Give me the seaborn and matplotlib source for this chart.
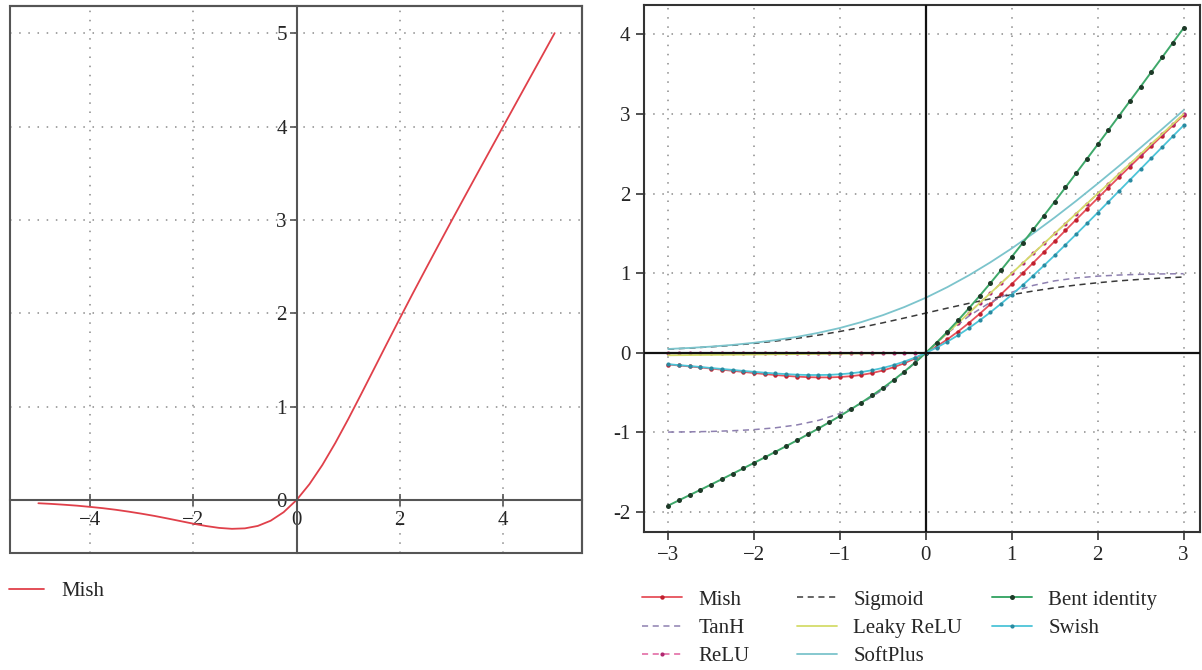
import numpy as np
import pandas as pd
import seaborn as sns
import matplotlib.pyplot as plt
from matplotlib.patches import Rectangle

# --- values ---
# left panel: Mish over -5..5
mish_wide_x = [-5, -4.75, -4.5, -4.25, -4, -3.75, -3.5, -3.25, -3, -2.75, -2.5, -2.25, -2,
               -1.75, -1.5, -1.25, -1, -0.75, -0.5, -0.25, 0, 0.25, 0.5, 0.75, 1, 1.25,
               1.5, 1.75, 2, 2.25, 2.5, 2.75, 3, 3.25, 3.5, 3.75, 4, 4.25, 4.5, 4.75, 5]
mish_wide_y = [-0.034, -0.041, -0.050, -0.060, -0.073, -0.087, -0.104, -0.124, -0.146, -0.170,
               -0.197, -0.225, -0.253, -0.278, -0.298, -0.308, -0.303, -0.277, -0.221, -0.130,
               0, 0.170, 0.375, 0.610, 0.865, 1.132, 1.403, 1.675, 1.944, 2.210, 2.471, 2.730,
               2.987, 3.241, 3.494, 3.746, 3.997, 4.248, 4.499, 4.749, 5.000]

# right panel: fine grid (marked series)
x_fine = [-3, -2.875, -2.75, -2.625, -2.5, -2.375, -2.25, -2.125, -2, -1.875, -1.75, -1.625,
          -1.5, -1.375, -1.25, -1.125, -1, -0.875, -0.75, -0.625, -0.5, -0.375, -0.25, -0.125,
          0, 0.125, 0.25, 0.375, 0.5, 0.625, 0.75, 0.875, 1, 1.125, 1.25, 1.375, 1.5, 1.625,
          1.75, 1.875, 2, 2.125, 2.25, 2.375, 2.5, 2.625, 2.75, 2.875, 3]
mish_y = [-0.146, -0.158, -0.170, -0.183, -0.197, -0.211, -0.225, -0.239, -0.253, -0.266,
          -0.278, -0.289, -0.298, -0.305, -0.308, -0.308, -0.303, -0.293, -0.277, -0.253,
          -0.221, -0.180, -0.130, -0.070, 0, 0.080, 0.170, 0.268, 0.375, 0.490, 0.610, 0.736,
          0.865, 0.998, 1.132, 1.267, 1.403, 1.539, 1.675, 1.810, 1.944, 2.077, 2.210, 2.341,
          2.471, 2.601, 2.730, 2.859, 2.987]
relu_y = [0] * 25 + [0.125, 0.25, 0.375, 0.5, 0.625, 0.75, 0.875, 1, 1.125, 1.25, 1.375, 1.5,
                     1.625, 1.75, 1.875, 2, 2.125, 2.25, 2.375, 2.5, 2.625, 2.75, 2.875, 3]
bent_y = [-1.919, -1.853, -1.787, -1.721, -1.654, -1.587, -1.519, -1.451, -1.382, -1.313,
          -1.242, -1.171, -1.099, -1.025, -0.950, -0.872, -0.793, -0.711, -0.625, -0.535,
          -0.441, -0.341, -0.235, -0.121, 0, 0.129, 0.265, 0.409, 0.559, 0.715, 0.875, 1.039,
          1.207, 1.378, 1.550, 1.725, 1.901, 2.079, 2.258, 2.438, 2.618, 2.799, 2.981, 3.164,
          3.346, 3.530, 3.713, 3.897, 4.081]
swish_y = [-0.142, -0.154, -0.165, -0.177, -0.190, -0.202, -0.214, -0.227, -0.238, -0.249,
           -0.259, -0.267, -0.274, -0.278, -0.278, -0.276, -0.269, -0.257, -0.241, -0.218,
           -0.189, -0.153, -0.109, -0.059, 0, 0.066, 0.141, 0.222, 0.311, 0.407, 0.509, 0.618,
           0.731, 0.849, 0.972, 1.098, 1.226, 1.358, 1.491, 1.626, 1.762, 1.898, 2.036, 2.173,
           2.310, 2.448, 2.585, 2.722, 2.858]

# right panel: coarse grid (plain lines)
x_coarse = [-3, -2.75, -2.5, -2.25, -2, -1.75, -1.5, -1.25, -1, -0.75, -0.5, -0.25, 0,
            0.25, 0.5, 0.75, 1, 1.25, 1.5, 1.75, 2, 2.25, 2.5, 2.75, 3]
tanh_y = [-0.995, -0.992, -0.987, -0.978, -0.964, -0.941, -0.905, -0.848, -0.762, -0.635,
          -0.462, -0.245, 0, 0.245, 0.462, 0.635, 0.762, 0.848, 0.905, 0.941, 0.964, 0.978,
          0.987, 0.992, 0.995]
sigmoid_y = [0.047, 0.060, 0.076, 0.095, 0.119, 0.148, 0.182, 0.223, 0.269, 0.321, 0.378,
             0.438, 0.5, 0.562, 0.622, 0.679, 0.731, 0.777, 0.818, 0.852, 0.881, 0.905,
             0.924, 0.940, 0.953]
softplus_y = [0.049, 0.062, 0.079, 0.100, 0.127, 0.160, 0.201, 0.252, 0.313, 0.387, 0.474,
              0.576, 0.693, 0.826, 0.974, 1.137, 1.313, 1.502, 1.701, 1.910, 2.127, 2.350,
              2.579, 2.812, 3.049]
leaky_x = [-3, 0, 3]
leaky_y = [-0.03, 0, 3]

sns.set_theme(style="white")
plt.rcParams['font.family'] = ['Liberation Serif', 'DejaVu Serif']

FS = 15
grid_kw = dict(color='#8a8a8a', linestyle=(0, (1, 5)), linewidth=1.1)

fig = plt.figure(figsize=(12.02, 6.70), dpi=100)
ax1 = fig.add_axes([0.0083, 0.1746, 0.4759, 0.8164])
ax2 = fig.add_axes([0.5358, 0.2060, 0.4625, 0.7865])

# ---------- left panel ----------
sns.lineplot(x=mish_wide_x, y=mish_wide_y, ax=ax1, color='#e0404a', lw=1.3,
             label='Mish', sort=False)
ax1.set_xlim(-5.55, 5.53)
ax1.set_ylim(-0.567, 5.29)
ax1.set_xticks([-4, -2, 0, 2, 4])
ax1.set_xticklabels(['\u22124', '\u22122', '0', '2', '4'])
ax1.set_yticks([0, 1, 2, 3, 4, 5])
ax1.grid(True, **grid_kw)
ax1.spines['left'].set_position(('data', 0))
ax1.spines['bottom'].set_position(('data', 0))
for s in ax1.spines.values():
    s.set_color('#555555')
    s.set_linewidth(1.5)
ax1.add_patch(Rectangle((0, 0), 1, 1, transform=ax1.transAxes, fill=False,
                        edgecolor='#555555', lw=1.5, clip_on=False, zorder=5))
ax1.tick_params(axis='y', direction='out', length=5, width=1.2, color='#555555',
                labelsize=FS, pad=2, left=True)
ax1.tick_params(axis='x', direction='inout', length=8, width=1.2, color='#555555',
                labelsize=FS, pad=4, bottom=True)
h1, l1 = ax1.get_legend_handles_labels()
if ax1.get_legend():
    ax1.get_legend().remove()
ax1.set_xlabel('')
ax1.set_ylabel('')

# ---------- right panel ----------
sns.lineplot(x=x_fine, y=mish_y, ax=ax2, color='#e6505a', lw=1.3, marker='o',
             markersize=3.2, markeredgewidth=0, markerfacecolor='#c0202e', label='Mish')
sns.lineplot(x=x_coarse, y=tanh_y, ax=ax2, color='#8e80b0', lw=1.1, dashes=(4, 3),
             label='TanH')
sns.lineplot(x=x_fine, y=relu_y, ax=ax2, color='#e0609e', lw=1.1, dashes=(4, 3),
             marker='o', markersize=3, markeredgewidth=0, markerfacecolor='#b02870',
             label='ReLU')
sns.lineplot(x=x_coarse, y=sigmoid_y, ax=ax2, color='#3a3a3a', lw=1.1, dashes=(4, 3),
             label='Sigmoid')
sns.lineplot(x=leaky_x, y=leaky_y, ax=ax2, color='#d4dc6a', lw=1.3, label='Leaky ReLU')
sns.lineplot(x=x_coarse, y=softplus_y, ax=ax2, color='#7cc4cc', lw=1.3, label='SoftPlus')
sns.lineplot(x=x_fine, y=bent_y, ax=ax2, color='#3ea86a', lw=1.4, marker='o',
             markersize=3.6, markeredgewidth=0, markerfacecolor='#1e3a28',
             label='Bent identity')
sns.lineplot(x=x_fine, y=swish_y, ax=ax2, color='#4cc4d8', lw=1.3, marker='o',
             markersize=3, markeredgewidth=0, markerfacecolor='#2a8aa0', label='Swish')
ax2.set_xlim(-3.28, 3.19)
ax2.set_ylim(-2.25, 4.37)
ax2.set_xticks([-3, -2, -1, 0, 1, 2, 3])
ax2.set_xticklabels(['\u22123', '\u22122', '\u22121', '0', '1', '2', '3'])
ax2.set_yticks([-2, -1, 0, 1, 2, 3, 4])
ax2.set_yticklabels(['-2', '-1', '0', '1', '2', '3', '4'])
ax2.grid(True, **grid_kw)
# origin axes drawn over the curves, as in the original
ax2.axhline(0, color='#111111', lw=1.6, zorder=2.6)
ax2.axvline(0, color='#111111', lw=1.6, zorder=2.6)
for s in ax2.spines.values():
    s.set_color('#333333')
    s.set_linewidth(1.5)
ax2.tick_params(direction='out', length=6, width=1.2, color='#333333', labelsize=FS,
                left=True, bottom=True, pad=4)
h2, l2 = ax2.get_legend_handles_labels()
if ax2.get_legend():
    ax2.get_legend().remove()
ax2.set_xlabel('')
ax2.set_ylabel('')

# ---------- legends below the panels ----------
leg_kw = dict(frameon=False, fontsize=FS, handletextpad=0.8,
              labelspacing=0.42, borderpad=0, borderaxespad=0)
fig.legend(h1, l1, loc='center left', bbox_to_anchor=(9 / 1202, 1 - 591 / 670),
           handlelength=1.7, **leg_kw)
col_x = [642, 797, 992]
for i, cx in enumerate(col_x):
    fig.legend(h2[3 * i:3 * i + 3], l2[3 * i:3 * i + 3], loc='upper left',
               bbox_to_anchor=(cx / 1202, 1 - 590 / 670), handlelength=1.9, **leg_kw)

fig.savefig('out.png', dpi=100)
